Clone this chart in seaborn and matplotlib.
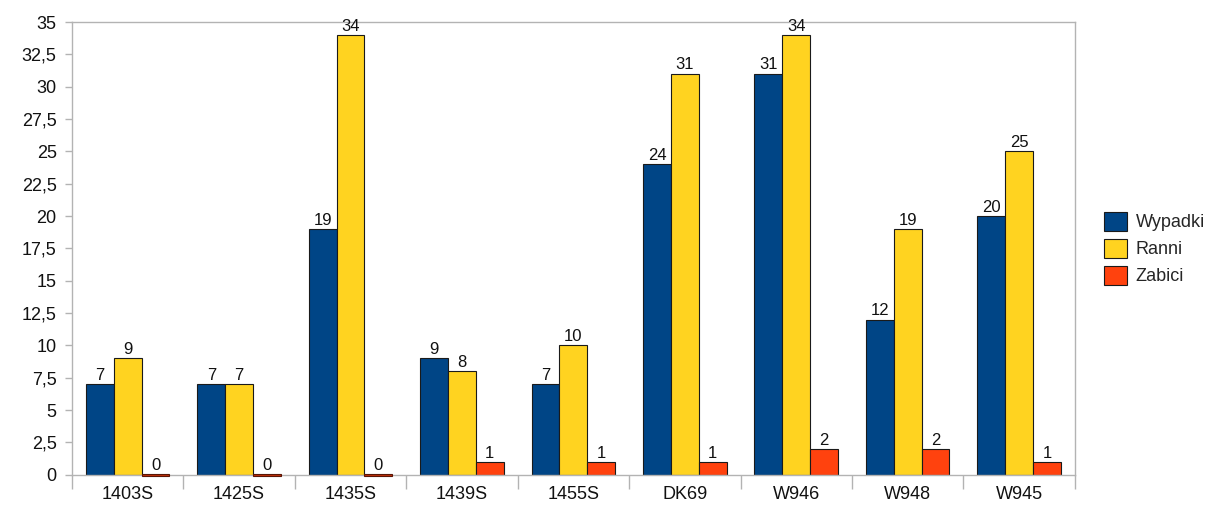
import numpy as np
import pandas as pd
import seaborn as sns
import matplotlib.pyplot as plt
from matplotlib.ticker import FuncFormatter, MultipleLocator, FixedLocator

# data
roads = ["1403S", "1425S", "1435S", "1439S", "1455S", "DK69", "W946", "W948", "W945"]
wypadki = [7, 7, 19, 9, 7, 24, 31, 12, 20]
ranni = [9, 7, 34, 8, 10, 31, 34, 19, 25]
zabici = [0, 0, 0, 1, 1, 1, 2, 2, 1]

series = ["Wypadki", "Ranni", "Zabici"]
colors = ["#004586", "#ffd320", "#ff420e"]

df = pd.DataFrame({
    "road": roads * 3,
    "value": wypadki + ranni + zabici,
    "series": [s for s in series for _ in roads],
})

sns.set_theme(style="white")
plt.rcParams["font.family"] = ["Liberation Sans", "DejaVu Sans"]

fig = plt.figure(figsize=(12.2, 5.15), dpi=100)
ax = fig.add_axes([0.059, 0.078, 0.822, 0.879])

sns.barplot(data=df, x="road", y="value", hue="series", palette=colors,
            saturation=1, width=0.75, edgecolor="#1a1a1a", linewidth=0.8, ax=ax)

for cont in ax.containers:
    ax.bar_label(cont, fmt="%d", padding=1, fontsize=12, color="#111111")

# zero-valued bars: LibreOffice draws them as a thin outlined line
for p in ax.containers[2]:
    if p.get_height() == 0:
        p.set_height(0.2)
        p.set_y(-0.1)
        p.set_edgecolor("#5a1505")
        p.set_facecolor("#c0300a")
        p.set_clip_on(False)
        p.set_zorder(3)

ax.set_xlim(-0.5, len(roads) - 0.5)
ax.set_ylim(0, 35)
ax.yaxis.set_major_locator(MultipleLocator(2.5))
ax.yaxis.set_major_formatter(FuncFormatter(
    lambda v, _: (f"{v:g}").replace(".", ",")))
ax.xaxis.set_minor_locator(FixedLocator(np.arange(-0.5, len(roads), 1.0)))

ax.tick_params(axis="y", which="major", left=True, length=5, width=1,
               color="#b3b3b3", labelsize=13, pad=6, labelcolor="#111111")
ax.tick_params(axis="x", which="major", bottom=False, length=0, labelsize=13,
               pad=8, labelcolor="#111111")
ax.tick_params(axis="x", which="minor", bottom=True, length=10, width=1,
               color="#b3b3b3")

for sp in ax.spines.values():
    sp.set_visible(True)
    sp.set_color("#b3b3b3")
    sp.set_linewidth(1)

ax.set_xlabel("")
ax.set_ylabel("")

handles, labels = ax.get_legend_handles_labels()
ax.legend(handles, labels, loc="center left", bbox_to_anchor=(1.013, 0.5),
          frameon=False, fontsize=13, handlelength=1.25, handleheight=1.25,
          handletextpad=0.5, labelspacing=0.4)

fig.savefig("out.png", dpi=100)
